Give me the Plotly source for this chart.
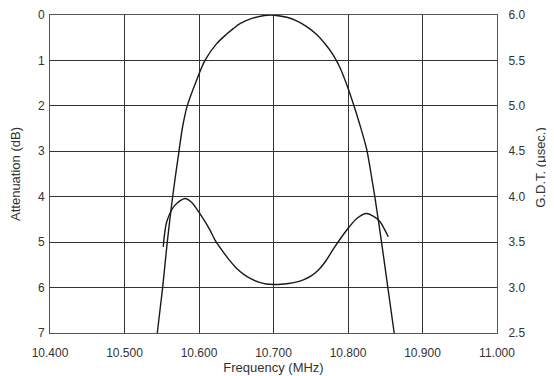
import plotly.graph_objects as go

# Attenuation curve (dB), left axis (reversed)
att_freq = [10.544, 10.5512, 10.5574, 10.5646, 10.5731, 10.578, 10.5842, 10.5969,
            10.608, 10.6237, 10.6372, 10.646, 10.655, 10.672, 10.688, 10.696, 10.704,
            10.718, 10.731, 10.745, 10.758, 10.770, 10.780, 10.789, 10.798, 10.807,
            10.816, 10.825, 10.832, 10.836, 10.845, 10.8535, 10.862]
att_db = [7.0, 6.0, 5.0, 4.0, 3.0, 2.46, 2.0, 1.43,
          1.0, 0.63, 0.42, 0.30, 0.19, 0.07, 0.01, 0.0, 0.01,
          0.05, 0.13, 0.26, 0.43, 0.65, 0.88, 1.15, 1.52, 1.95,
          2.42, 2.95, 3.6, 4.0, 5.0, 6.0, 7.0]

# Group delay time (usec), right axis
gdt_freq = [10.552, 10.5567, 10.5678, 10.5812, 10.590, 10.601, 10.6148, 10.6215, 10.630,
            10.640, 10.650, 10.660, 10.670, 10.680, 10.690, 10.700, 10.710, 10.720,
            10.730, 10.740, 10.750, 10.760, 10.770, 10.780, 10.790, 10.800, 10.8117,
            10.825, 10.835, 10.843, 10.854]
gdt_us = [3.448, 3.724, 3.907, 3.981, 3.94, 3.816, 3.632, 3.522, 3.42,
          3.31, 3.215, 3.145, 3.095, 3.06, 3.04, 3.034, 3.036, 3.045,
          3.06, 3.085, 3.125, 3.19, 3.29, 3.42, 3.54, 3.65, 3.761,
          3.816, 3.78, 3.724, 3.559]

x_ticks = [10.4, 10.5, 10.6, 10.7, 10.8, 10.9, 11.0]
x_labels = ["10.400", "10.500", "10.600", "10.700", "10.800", "10.900", "11.000"]
left_ticks = [0, 1, 2, 3, 4, 5, 6, 7]
right_ticks = [2.5, 3.0, 3.5, 4.0, 4.5, 5.0, 5.5, 6.0]
right_labels = ["2.5", "3.0", "3.5", "4.0", "4.5", "5.0", "5.5", "6.0"]

FONT = "Liberation Sans, Arial, Helvetica, sans-serif"
LINE = dict(color="#1a1a1a", width=1.4, shape="spline", smoothing=0.8)
TXT = "#333"

fig = go.Figure()
fig.add_trace(go.Scatter(x=att_freq, y=att_db, mode="lines", line=LINE,
                         yaxis="y", showlegend=False, hoverinfo="skip"))
fig.add_trace(go.Scatter(x=gdt_freq, y=gdt_us, mode="lines", line=LINE,
                         yaxis="y2", showlegend=False, hoverinfo="skip"))

# page body has an 8px default margin, so the figure is sized to fill the rest of the window
fig.update_layout(
    width=546, height=368,
    margin=dict(l=42, r=57, t=7, b=43),
    paper_bgcolor="white", plot_bgcolor="white",
    font=dict(family=FONT, size=12, color=TXT),
    xaxis=dict(range=[10.4, 11.0], tickvals=x_ticks, ticktext=x_labels,
               showgrid=True, gridcolor="#333", gridwidth=1,
               showline=True, linecolor="#555", linewidth=1, mirror=True,
               zeroline=False, ticks="", ticklabelstandoff=9, automargin=False,
               tickfont=dict(size=12, color=TXT),
               title=dict(text="Frequency (MHz)", font=dict(size=13, color=TXT), standoff=2)),
    yaxis=dict(range=[7, 0], tickvals=left_ticks,
               showgrid=True, gridcolor="#333", gridwidth=1,
               showline=True, linecolor="#555", linewidth=1,
               zeroline=False, ticks="", automargin=False, ticklabelstandoff=2,
               tickfont=dict(size=12, color=TXT),
               title=dict(text="Attenuation (dB)", font=dict(size=13, color=TXT), standoff=19)),
    yaxis2=dict(range=[2.5, 6.0], tickvals=right_ticks, ticktext=right_labels,
                overlaying="y", side="right", showgrid=False,
                showline=True, linecolor="#555", linewidth=1,
                zeroline=False, ticks="", automargin=False, ticklabelstandoff=8,
                tickfont=dict(size=12, color=TXT)),
    annotations=[
        dict(text="G.D.T. (μsec.)", xref="paper", yref="paper",
             x=1, y=0.52, xanchor="center", yanchor="middle",
             xshift=44, textangle=-90, showarrow=False,
             font=dict(size=13, color=TXT, family=FONT)),
    ],
)

fig.write_html("out.html")
